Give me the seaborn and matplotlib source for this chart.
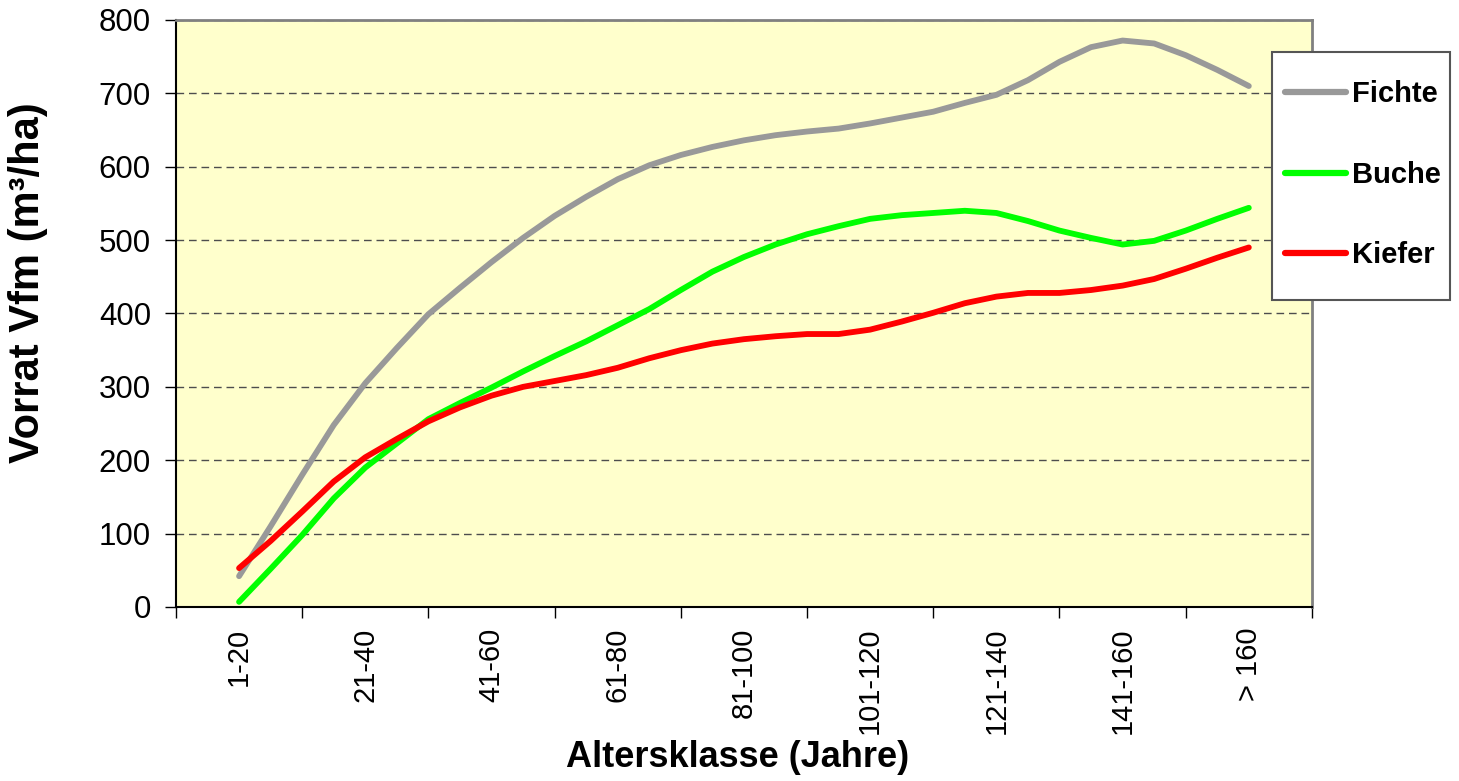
import numpy as np
import pandas as pd
import seaborn as sns
import matplotlib.pyplot as plt
from matplotlib.lines import Line2D
from matplotlib.patches import Rectangle

# Altersklassen (Beschriftung nur jede 4. Stufe)
klassen = ['1-20', '21-40', '41-60', '61-80', '81-100', '101-120', '121-140', '141-160', '> 160']
baumarten = ['Fichte', 'Buche', 'Kiefer']
farben = ['#999999', '#00ff00', '#ff0000']

# Vorrat Vfm (m³/ha)
fichte = [42, 110, 180, 248, 305, 353, 399, 435, 470, 503, 533, 559, 583, 602, 616, 627, 636,
          643, 648, 652, 659, 667, 675, 687, 698, 718, 743, 763, 772, 768, 752, 732, 710]
buche = [7, 52, 98, 148, 190, 223, 256, 278, 299, 321, 342, 362, 384, 406, 432, 457, 477,
         494, 508, 519, 529, 534, 537, 540, 537, 526, 513, 503, 494, 499, 513, 529, 544]
kiefer = [53, 90, 130, 171, 204, 229, 253, 272, 288, 300, 308, 316, 326, 339, 350, 359, 365,
          369, 372, 372, 378, 389, 401, 414, 423, 428, 428, 432, 438, 447, 461, 476, 490]

stufe = np.arange(len(fichte))
df = pd.DataFrame({
    'Stufe': np.tile(stufe, 3),
    'Vorrat': fichte + buche + kiefer,
    'Baumart': np.repeat(baumarten, len(stufe)),
})

sns.set_theme(style='white')
plt.rcParams['font.family'] = ['Liberation Sans', 'DejaVu Sans']
plt.rcParams['text.color'] = 'black'
plt.rcParams['axes.labelcolor'] = 'black'
plt.rcParams['xtick.color'] = 'black'
plt.rcParams['ytick.color'] = 'black'

fig = plt.figure(figsize=(14.59, 7.81), dpi=100)
ax = fig.add_axes([0.1206, 0.2228, 0.7786, 0.7516])
ax.set_facecolor('#ffffcc')

sns.lineplot(data=df, x='Stufe', y='Vorrat', hue='Baumart', palette=dict(zip(baumarten, farben)),
             linewidth=4.2, ax=ax, legend=False, sort=False)

ax.set_xlim(-2, 34)
ax.set_ylim(0, 800)
ax.set_yticks(range(0, 801, 100))
ax.set_xticks(range(0, len(stufe), 4))
ax.set_xticklabels(klassen, rotation=90, va='top')
ax.set_xticks(np.arange(-2, 35, 4), minor=True)
ax.tick_params(axis='x', which='major', length=0, pad=15, labelsize=21)
ax.tick_params(axis='x', which='minor', bottom=True, length=8, width=1, color='black')
ax.tick_params(axis='y', left=True, length=8, width=1, color='black', pad=10, labelsize=22.5)

ax.set_axisbelow(True)
ax.yaxis.grid(True, color='#4d4d4d', linestyle=(0, (5.5, 3.5)), linewidth=1)
ax.xaxis.grid(False)

for s in ['left', 'bottom']:
    ax.spines[s].set_color('black')
    ax.spines[s].set_linewidth(1.5)
for s in ['top', 'right']:
    ax.spines[s].set_color('#808080')
    ax.spines[s].set_linewidth(2)

ax.set_xlabel('Altersklasse (Jahre)', fontsize=26, fontweight='bold')
ax.xaxis.set_label_coords(0.494, -0.226)
ax.set_ylabel('Vorrat Vfm (m³/ha)', fontsize=30, fontweight='bold')
ax.yaxis.set_label_coords(-0.113, 0.553)

# Legende mit eigenem Rahmen
box = Rectangle((0.8718, 0.6159), 0.122, 0.3175, transform=fig.transFigure,
                facecolor='white', edgecolor='#555555', linewidth=1.5, zorder=2)
fig.add_artist(box)
handles = [Line2D([], [], color=c, linewidth=4.5) for c in farben]
leg = fig.legend(handles, baumarten, loc='upper left', bbox_to_anchor=(0.8807, 0.897),
                 frameon=False, borderpad=0, borderaxespad=0, labelspacing=1.8,
                 handlelength=2.1, handletextpad=0.2, prop={'weight': 'bold', 'size': 21})
leg.set_zorder(3)

fig.savefig('out.png', dpi=100)
